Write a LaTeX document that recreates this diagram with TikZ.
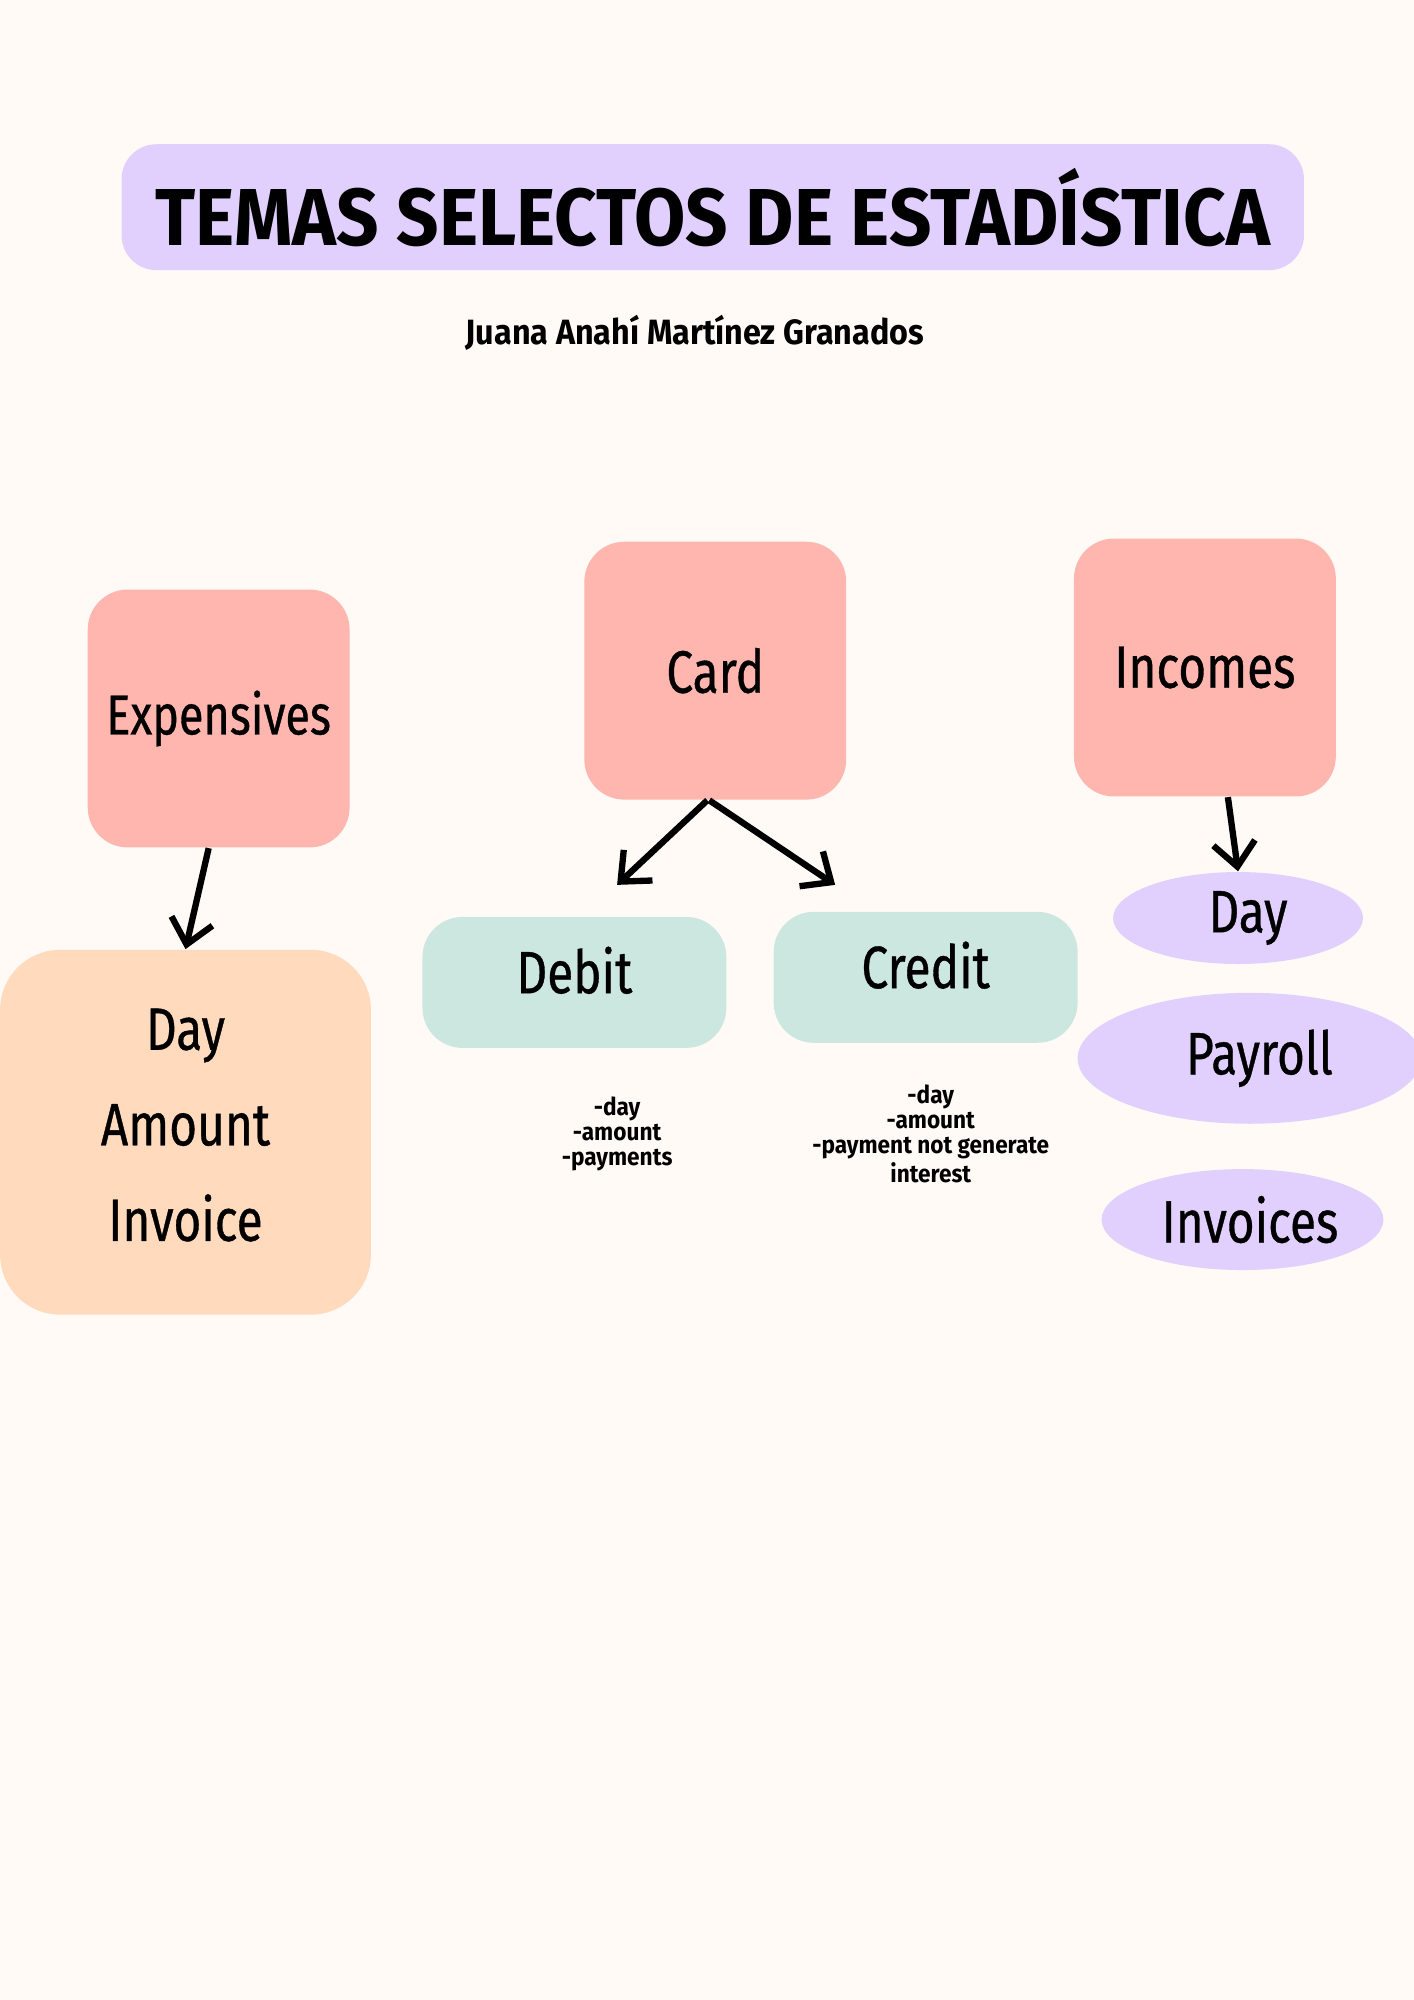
\documentclass[tikz,border=0pt]{standalone}
\usepackage{fontspec}
\setmainfont{Fira Sans}[FakeStretch=0.8,FakeBold=0.6]
\newfontfamily\widefont{Fira Sans}[FakeStretch=0.92]
\usetikzlibrary{shapes.geometric,arrows.meta}
\definecolor{paper}{HTML}{FFFAF6}
\definecolor{lilac}{HTML}{E1CFFE}
\definecolor{salmon}{HTML}{FFB6AF}
\definecolor{peach}{HTML}{FFDABD}
\definecolor{mint}{HTML}{CCE7DF}
\begin{document}
\begin{tikzpicture}[x=0.01275cm,y=-0.01275cm,
  box/.style={rectangle,rounded corners=0.4cm,inner sep=0pt,font=\fontsize{17}{20}\selectfont},
  topic/.style={box,fill=salmon,minimum width=2.62cm,minimum height=2.58cm},
  kind/.style={box,fill=mint,minimum width=3.04cm,minimum height=1.31cm,text depth=0.25cm},
  blob/.style={ellipse,fill=lilac,inner sep=0pt,font=\fontsize{17}{20}\selectfont},
  note/.style={align=center,font=\widefont\fontsize{7}{7.1}\selectfont\bfseries},
  arr/.style={line width=1.8pt,-{Straight Barb[length=2.4mm,width=4.2mm]}}]
\fill[paper] (0,0) rectangle (1109,1568.6);
\useasboundingbox (0,0) rectangle (1109,1568.6);
\node[fill=lilac,rounded corners=0.35cm,minimum width=11.83cm,minimum height=1.26cm,font=\widefont\fontsize{23}{24}\selectfont\bfseries] (title) at (559,162.5) {TEMAS SELECTOS DE ESTADÍSTICA};
\node[font=\widefont\fontsize{10}{12}\selectfont\bfseries] (author) at (545,261) {Juana Anahí Martínez Granados};
\node[topic,font=\fontsize{16}{18}\selectfont] (exp) at (171.5,563.5) {Expensives};
\node[topic] (card) at (561,526) {Card};
\node[topic] (inc) at (945,523.5) {Incomes};
\node[box,fill=peach,rounded corners=0.6cm,minimum width=3.71cm,minimum height=3.65cm,align=center,font=\fontsize{17}{27.2}\selectfont,text depth=0.15cm] (expinfo) at (145.5,888) {Day\\Amount\\Invoice};
\node[kind] (debit) at (450.5,770.5) {Debit};
\node[kind] (credit) at (726,766.5) {Credit};
\node[note] (debitnote) at (484,889) {-day\\-amount\\-payments};
\node[note] (creditnote) at (730,889.5) {-day\\-amount\\-payment not generate\\interest};
\node[blob,minimum width=2.5cm,minimum height=0.92cm] (day) at (971,720) {\hspace{0.2cm}Day};
\node[blob,minimum width=3.44cm,minimum height=1.31cm] (payroll) at (980,830) {\hspace{0.2cm}Payroll};
\node[blob,minimum width=2.82cm,minimum height=1.01cm] (invoices) at (974.5,956.5) {\hspace{0.15cm}Invoices};
\coordinate (dtip) at (484,694);
\coordinate (ctip) at (655,694);
\draw[arr] ([xshift=-0.1cm]exp.south) -- (expinfo.north);
\draw[arr] ([xshift=-0.08cm]card.south) -- (dtip);
\draw[arr] ([xshift=-0.06cm]card.south) -- (ctip);
\draw[arr] ([xshift=0.23cm]inc.south) -- (day.north);
\end{tikzpicture}
\end{document}
